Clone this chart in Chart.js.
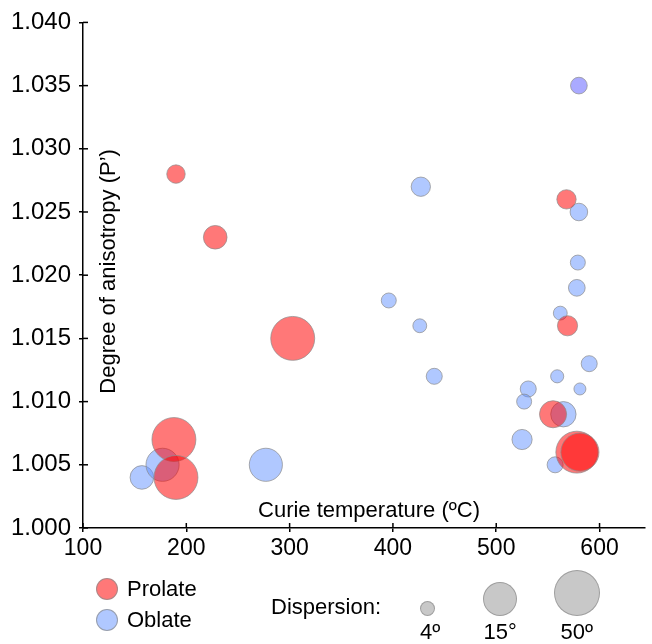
<!DOCTYPE html>
<html>
<head>
<meta charset="utf-8">
<script src="https://cdn.jsdelivr.net/npm/chart.js@4.4.0/dist/chart.umd.min.js"></script>
<style>
  body { margin: 0; background: #fff; font-family: "Liberation Sans", Arial, sans-serif; }
  #wrap { position: relative; width: 652px; height: 644px; }
  #legend { position: absolute; left: 0; top: 0; width: 652px; height: 644px; pointer-events: none; font-size: 22px; color: #000; }
  .dot { position: absolute; border-radius: 50%; box-sizing: border-box; border: 1px solid rgba(140,140,140,0.7); }
  .lbl { position: absolute; line-height: 1; white-space: nowrap; }
</style>
</head>
<body>
<div id="wrap">
  <canvas id="chart" width="652" height="644"></canvas>
  <div id="legend"></div>
</div>
<script>
// Prolate samples
const prolateTemp = [190, 228, 303, 188, 190, 568, 569, 555, 578, 581];
const prolateP    = [1.028, 1.023, 1.015, 1.007, 1.004, 1.026, 1.016, 1.009, 1.006, 1.006];
const prolateDisp = [6, 9, 44, 44, 44, 6.5, 7, 11, 38, 27];

// Oblate samples
const oblateTemp = [580, 427, 580, 579, 578, 396, 426, 562, 590, 440, 559, 581, 531, 527, 565, 525, 557, 157, 177, 277];
const oblateP    = [1.035, 1.027, 1.025, 1.021, 1.019, 1.018, 1.016, 1.017, 1.013, 1.012, 1.012, 1.011, 1.011, 1.010, 1.009, 1.007, 1.005, 1.004, 1.005, 1.005];
const oblateDisp = [5, 6.5, 5.5, 4, 5, 4, 3.7, 3.7, 4.6, 4.6, 3.5, 3.2, 4.6, 4, 10, 7, 4.6, 9, 14.5, 14.5];

// size legend
const dispLegend = [4, 15, 50];
const dispLabels = ['4º', '15°', '50º'];

const RED = 'rgba(255,0,0,0.53)';
const BLUE = 'rgba(97,145,255,0.5)';
const LAVENDER = 'rgba(85,85,255,0.5)';
const FONT = '"Liberation Sans", Arial, sans-serif';

// dispersion (degrees) -> bubble radius in px
function radiusFor(d) {
    const pts = [[0, 0], [4, 7.5], [15, 17], [50, 23]];
    for (let i = 1; i < pts.length; i++) {
        if (d <= pts[i][0] || i === pts.length - 1) {
            const [x0, y0] = pts[i - 1], [x1, y1] = pts[i];
            return y0 + (d - x0) * (y1 - y0) / (x1 - x0);
        }
    }
}

function points(xs, ys, ds) {
    return xs.map((x, i) => ({ x: x, y: ys[i], r: radiusFor(ds[i]) }));
}

// tick marks that cross the axis line
const innerTicks = {
    id: 'innerTicks',
    afterDraw(chart) {
        const { ctx, chartArea, scales } = chart;
        ctx.save();
        ctx.strokeStyle = '#000';
        ctx.lineWidth = 1.5;
        scales.x.ticks.forEach(t => {
            const px = scales.x.getPixelForValue(t.value);
            ctx.beginPath();
            ctx.moveTo(px, chartArea.bottom);
            ctx.lineTo(px, chartArea.bottom - 5);
            ctx.stroke();
        });
        scales.y.ticks.forEach(t => {
            const py = scales.y.getPixelForValue(t.value);
            ctx.beginPath();
            ctx.moveTo(chartArea.left, py);
            ctx.lineTo(chartArea.left + 5, py);
            ctx.stroke();
        });
        // axis titles sit inside the plot
        ctx.fillStyle = '#000';
        ctx.font = '22px ' + FONT;
        ctx.textAlign = 'center';
        ctx.textBaseline = 'middle';
        ctx.fillText('Curie temperature (ºC)', chartArea.left + 286, chartArea.bottom - 17);
        ctx.translate(chartArea.left + 26, chartArea.top + 249);
        ctx.rotate(-Math.PI / 2);
        ctx.fillText('Degree of anisotropy (P’)', 0, 0);
        ctx.restore();
    }
};

const chart = new Chart(document.getElementById('chart').getContext('2d'), {
    type: 'bubble',
    data: {
        datasets: [{
            label: 'Prolate',
            data: points(prolateTemp, prolateP, prolateDisp),
            backgroundColor: RED,
            borderColor: 'rgba(140,140,140,0.7)',
            borderWidth: 1,
            order: 0
        }, {
            label: 'Oblate',
            data: points(oblateTemp, oblateP, oblateDisp),
            backgroundColor: ctx => ctx.dataIndex === 0 ? LAVENDER : BLUE,
            borderColor: 'rgba(140,140,140,0.7)',
            borderWidth: 1,
            order: 1
        }]
    },
    options: {
        responsive: false,
        animation: false,
        layout: { autoPadding: false, padding: { top: 17, right: 7, left: 0, bottom: 0 } },
        plugins: {
            legend: { display: false },
            tooltip: { enabled: false }
        },
        scales: {
            x: {
                type: 'linear',
                min: 100,
                max: 644,
                afterFit: s => { s.height = 116; },
                border: { display: true, color: '#000', width: 1.5 },
                grid: { drawOnChartArea: false, drawTicks: true, tickLength: 4, color: '#000', lineWidth: 1.5 },
                ticks: { stepSize: 100, includeBounds: false, autoSkip: false, color: '#000', padding: 3, maxRotation: 0, font: { family: FONT, size: 23 } }
            },
            y: {
                min: 1.0,
                max: 1.04,
                afterFit: s => { s.width = 83; },
                border: { display: true, color: '#000', width: 1.5 },
                grid: { drawOnChartArea: false, drawTicks: true, tickLength: 4, color: '#000', lineWidth: 1.5 },
                ticks: {
                    stepSize: 0.005,
                    color: '#000',
                    padding: 8,
                    font: { family: FONT, size: 24 },
                    callback: v => v.toFixed(3)
                }
            }
        }
    },
    plugins: [innerTicks]
});

// legend below the plot
const legend = document.getElementById('legend');
function addDot(cx, cy, r, color) {
    const d = document.createElement('div');
    d.className = 'dot';
    d.style.left = (cx - r) + 'px';
    d.style.top = (cy - r) + 'px';
    d.style.width = d.style.height = (2 * r) + 'px';
    d.style.background = color;
    legend.appendChild(d);
}
function addLabel(text, x, cy, center) {
    const s = document.createElement('div');
    s.className = 'lbl';
    s.textContent = text;
    legend.appendChild(s);
    const w = s.offsetWidth, h = s.offsetHeight;
    s.style.left = (center ? x - w / 2 : x) + 'px';
    s.style.top = (cy - h / 2) + 'px';
}
addDot(107, 589, 11, '#ff7878');
addLabel('Prolate', 127, 589, false);
addDot(107, 620, 11, '#b0c8ff');
addLabel('Oblate', 127, 620, false);
addLabel('Dispersion:', 271, 607, false);
const legendX = [427, 500, 577];
dispLegend.forEach((d, i) => {
    const r = radiusFor(d);
    addDot(legendX[i], 616 - r, r, '#c8c8c8');
    addLabel(dispLabels[i], legendX[i] + (i === 0 ? 3 : 0), 632, true);
});
</script>
</body>
</html>
